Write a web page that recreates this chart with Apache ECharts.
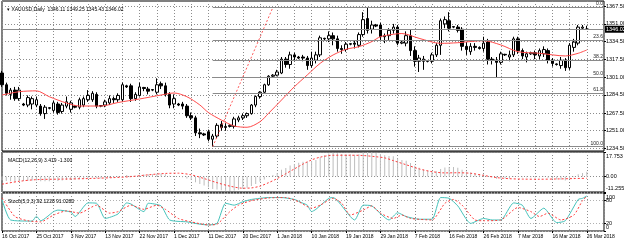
<!DOCTYPE html>
<html>
<head>
<meta charset="utf-8">
<title>XAUUSD Daily</title>
<script src="https://cdn.jsdelivr.net/npm/echarts@6.0.0/dist/echarts.min.js"></script>
<style>
  html, body { margin: 0; padding: 0; background: #fff; }
  #chart { width: 624px; height: 243px; }
</style>
</head>
<body>
<div id="chart"></div>
<script type="text/javascript">
// bars: Mon-Fri plus the short Sunday session, no bars on 24/25 Dec
var firstDay = '2017-10-16';
var barCount = 141;          // 137 bars + empty shift on the right
var noBarDays = ['2017-12-24', '2017-12-25'];
var monthNames = ['Jan','Feb','Mar','Apr','May','Jun','Jul','Aug','Sep','Oct','Nov','Dec'];

// [open, close, low, high]
var ohlc = [
  [1305,1294,1292,1307],[1294,1286,1284,1296],[1285,1289,1280,1291],[1289,1281,1279,1292],[1281,1289,1279,1292],[1276,1275,1274,1277],
  [1275,1282,1273,1284],[1276,1281,1271,1283],[1275,1280,1273,1283],[1274,1267,1265,1276],[1267,1273,1262,1275],[1272.5,1272,1271,1273],
  [1270,1277,1268,1279],[1276,1268,1266,1278],[1269,1275,1267,1277],[1274,1278,1272,1283],[1271,1277,1268,1279],[1274,1273,1272,1275],
  [1273,1280,1271,1282],[1275,1281,1273,1283],[1280,1284,1278,1289],[1280,1286,1278,1288],[1285,1274,1272,1287],[1274.5,1274,1273,1275],
  [1275,1278,1273,1280],[1277,1281,1275,1284],[1281,1280,1277,1283],[1280,1284,1278,1286],[1280,1294,1278,1296],[1293,1292,1291,1294],
  [1293,1281,1278,1295],[1281,1285,1279,1287],[1284,1292,1283,1296],[1291.5,1290.5,1288,1292],[1290,1288,1285,1292],[1289.5,1289,1288,1290],
  [1287,1294,1285,1300],[1295,1293,1290,1297],[1293,1285,1283,1296],[1285,1275,1272,1287],[1276,1281,1272,1285],[1276,1275,1274,1277],
  [1276,1274,1271,1278],[1274,1265,1263,1276],[1265,1263,1261,1268],[1263,1249,1246,1265],[1249,1248,1244,1253],[1248,1247,1246,1249],
  [1250,1243,1241,1252],[1243,1246,1236,1248],[1246,1256,1244,1258],[1257,1254,1251,1260],[1254,1255,1251,1258],[1255,1256,1254,1257],
  [1255,1262,1253,1264],[1261,1263,1259,1265],[1263,1265,1261,1267],[1265,1267,1263,1268],[1267,1275,1266,1276],
  [1275,1283,1273,1284],[1283,1287,1281,1288],[1287,1294,1286,1295],[1294,1302,1293,1303],[1302,1303,1301,1304],
  [1303,1306,1302,1308],[1305,1318,1304,1320],[1318,1313,1310,1320],[1313,1322,1309,1325],[1322,1320,1316,1324],[1320,1319,1318,1321],
  [1320,1319,1316,1322],[1319,1312,1308,1321],[1312,1319,1310,1325],[1317,1322,1314,1325],[1322,1338,1320,1340],[1337.5,1337,1335,1338],
  [1337,1340,1334,1344],[1340,1337,1331,1343],[1337,1328,1325,1340],[1328,1327,1323,1331],[1327,1332,1325,1334],[1332.5,1332,1331,1333],
  [1333,1332,1328,1335],[1331,1341,1329,1343],[1341,1355,1339,1362],[1356,1345,1342,1366.5],[1346,1350,1342,1354],[1350,1349,1348,1351],
  [1350,1339,1336,1352],[1339,1340,1333,1342],[1340,1345,1336,1347],[1345,1348,1342,1351],[1348,1333,1331,1350],[1333,1334,1332,1335],
  [1333,1340,1330,1344],[1340,1326,1321,1346],[1326,1316,1311,1330],[1316,1319,1306,1322],[1316,1318,1308,1321],[1316.5,1316,1315,1317],
  [1316,1322,1314,1324],[1322,1331,1320,1333],[1331,1354,1322,1356],[1351,1355,1347,1358],[1354,1347,1344,1362],[1348.5,1348,1347,1349],
  [1348,1345,1343,1350],[1346,1330,1326,1348],[1330,1327,1322,1334],[1325,1330,1322,1333],[1330,1329,1326,1333],[1329,1328,1327,1330],
  [1328,1333,1325,1339],[1334,1318,1313,1337],[1318,1317,1313,1320],[1317,1315,1301,1320],[1315,1323,1313,1325],[1322.5,1322,1321,1323],
  [1320,1322,1316,1326],[1322,1337,1320,1339],[1337,1326,1323,1339],[1326,1321,1318,1328],[1320,1323,1315,1325],[1323,1324,1322,1325],
  [1324,1322,1318,1326],[1321,1326,1318,1328],[1323,1327,1320,1330],[1326,1317,1314,1328],[1317,1314,1311,1319],[1313.5,1313,1312,1314],
  [1312,1317,1309,1320],[1317,1310,1307,1319],[1310,1331,1308,1333],[1329,1334,1325,1337],[1333,1348,1331,1350],[1347,1348,1346,1350],
  [1346.11,1346.02,1345.43,1349.25]
];

// moving average (red line), [bar, price]
var maPoints = [[0,1284.4],[4,1287.5],[8,1288.3],[11,1282.8],[15,1276.9],[18,1274.1],[23,1274.1],[27,1277.4],[32,1280.7],
  [37,1284.4],[40,1286.3],[43,1282.8],[46,1275.1],[48,1268.0],[51,1261.0],[54,1255.4],[57,1254.2],[60,1259.4],[62,1267.3],
  [65,1279.7],[68,1292.2],[71,1303.2],[74,1314.1],[77,1321.9],[80,1327.2],[83,1329.7],[86,1334.4],[88,1339.0],[91,1341.3],
  [93,1342.0],[97,1337.5],[102,1332.8],[106,1333.4],[112,1335.3],[116,1331.3],[120,1325.0],[125,1323.5],[131,1321.0],
  [134,1323.5],[136,1326.6]];

var priceTicks = [1234.5, 1251, 1267.5, 1284.5, 1301, 1317.5, 1334.5, 1351, 1367.5];
var bidPrice = 1346.02;

// fibonacci retracement, low 12 Dec -> high
var fibStart = 49, fibEnd = 63;
var fibLow = 1236.0, fibHigh = 1366.5;
var fibRatios = [0, 0.236, 0.382, 0.5, 0.618, 1];
var fibLabels = ['0.0', '23.6', '38.2', '50.0', '61.8', '100.0'];

// MACD(12,26,9)
var macdHist = [-2.8,-3.2,-3.4,-3.6,-3.2,-3.3,-3.2,-3.0,-2.9,-3.4,-3.5,-3.4,-3.0,-3.2,-2.9,-2.6,-2.5,-2.4,-2.0,-1.7,
  -1.3,-0.9,-1.3,-1.5,-1.4,-1.1,-0.9,-0.6,0.4,1.0,0.6,0.6,1.2,1.5,1.6,1.6,2.0,2.2,1.7,0.6,
  0.3,-0.1,-0.5,-1.5,-2.5,-4.2,-5.5,-6.5,-7.8,-9.0,-9.4,-10.0,-10.4,-10.6,-10.2,-9.6,-8.9,-8.1,-6.9,-5.4,
  -3.9,-2.2,-0.4,1.1,2.6,4.8,6.2,7.9,9.0,9.9,10.6,10.6,11.2,12.0,14.0,15.4,16.6,17.2,16.8,16.3,
  16.2,16.1,15.8,16.2,17.4,17.75,17.5,17.2,16.3,15.4,14.9,14.6,13.1,12.0,11.4,9.8,7.8,6.4,5.0,4.1,
  3.6,3.8,5.4,6.6,6.9,6.8,6.4,4.8,3.6,2.8,2.2,1.7,1.6,0.4,-0.5,-1.6,-1.5,-1.4,-1.4,-0.4,
  -0.3,-0.6,-0.6,-0.6,-0.8,-0.6,-0.4,-1.0,-1.7,-2.2,-2.4,-2.9,-1.6,-0.5,1.6,2.6,3.419];
var macdSignal = [[0,-5.6],[4,-3.5],[8,-2.3],[14,-1.9],[20,-1.5],[26,-0.8],[30,-0.1],[34,1.2],[38,2.2],[41,2.4],
  [44,1.2],[47,-1.5],[50,-4.5],[53,-7],[56,-8.5],[58,-8.3],[60,-7],[62,-4.5],[64,-1.5],[66,2],[68,5.5],[70,9],
  [72,12],[74,14],[77,15.4],[81,15.4],[84,15.2],[87,14.3],[89,13.5],[91,11.5],[94,8.5],[97,5.5],[100,3.5],
  [103,2.6],[106,2.7],[109,2.3],[112,0.8],[115,-0.8],[118,-1.6],[121,-1.9],[125,-2],[129,-1.8],[133,-1.5],[136,-1.3]];
var macdTicks = [-11.255, 0, 17.753];

// Stochastic(5,3,3)
var stochMain = [[0,83],[2,29],[7,26],[8,39],[9,27],[12,51],[13,55],[16,50],[17,38],[20,74],[22,73],[24,33],[27,45],
  [29,74],[30,71],[33,51],[34,73],[37,66],[39,29],[43,24],[46,18],[48,16],[50,20],[52,73],[54,68],[56,77],[58,83],
  [62,88],[65,88],[68,83],[70,73],[71,68],[72,51],[73,57],[76,86],[77,88],[82,29],[84,68],[86,66],[90,29],[92,48],
  [94,38],[97,31],[100,31],[102,88],[104,86],[106,66],[109,20],[112,33],[114,29],[116,29],[119,74],[121,68],[123,33],
  [126,60],[129,22],[131,27],[134,83],[135,86],[136,92.1228]];
var stochSignal = [[0,87],[3,38],[6,27],[9,24],[12,42],[15,53],[18,47],[22,68],[25,47],[27,51],[30,68],[33,57],
  [36,68],[38,57],[41,33],[44,24],[48,16],[50,18],[53,51],[55,68],[58,80],[62,87],[66,88],[69,77],[72,60],[74,68],
  [77,86],[79,73],[81,42],[84,55],[86,66],[88,47],[91,33],[93,42],[95,33],[100,29],[103,73],[105,83],[107,68],
  [110,29],[112,27],[116,29],[120,62],[123,51],[125,38],[127,47],[130,29],[133,42],[135,80],[136,91.028]];
var stochBounds = [0, 100];
var stochLevels = [20, 80];

var dates = [];
var d = new Date(firstDay + 'T00:00:00Z');
while (dates.length < barCount) {
  var key = d.toISOString().slice(0, 10);
  if (d.getUTCDay() !== 6 && noBarDays.indexOf(key) < 0) dates.push(key);
  d.setUTCDate(d.getUTCDate() + 1);
}
function dateLabel(s) {
  var p = s.split('-');
  return parseInt(p[2], 10) + ' ' + monthNames[parseInt(p[1], 10) - 1] + ' ' + p[0];
}

var FONT = '"Liberation Sans", Arial, sans-serif';
var gridDots = { color: '#8c8c8c', width: 1, type: [1, 2] };
var panes = [
  { top: 1, height: 150 },
  { top: 152, height: 40 },
  { top: 193, height: 38 }
];

var myChart = echarts.init(document.getElementById('chart'), null, { renderer: 'canvas' });

option = {
  animation: false,
  backgroundColor: '#fff',
  textStyle: { fontFamily: FONT },
  title: [
    { text: '\u25BE XAUUSD,Daily  1346.11 1349.25 1345.43 1346.02', left: 2, top: 2, textStyle: { fontSize: 5, fontWeight: 'normal', color: '#000' } },
    { text: 'MACD(12,26,9) 3.419 -1.300', left: 3, top: 153, textStyle: { fontSize: 5, fontWeight: 'normal', color: '#000' } },
    { text: 'Stoch(5,3,3) 92.1228 91.0280', left: 3, top: 194, textStyle: { fontSize: 5, fontWeight: 'normal', color: '#000' } }
  ],
  grid: panes.map(function (p) {
    return { left: 2, right: 20, top: p.top, height: p.height, show: true, borderColor: '#000', borderWidth: 1,
             backgroundColor: 'transparent', containLabel: false, outerBoundsMode: 'none' };
  }),
  xAxis: [0, 1, 2].map(function (g) {
    return {
      type: 'category', gridIndex: g, data: dates, boundaryGap: false,
      axisLine: { show: false },
      axisTick: { show: g === 2, length: 2, lineStyle: { color: '#000' },
                  interval: function (i) { return i % 8 === 0 && i <= 136; } },
      axisLabel: { show: g === 2, fontSize: 5, color: '#000', align: 'left', margin: 3, fontFamily: FONT,
                   interval: function (i) { return i % 8 === 0 && i <= 136; },
                   formatter: function (v) { return dateLabel(v); } },
      splitLine: { show: true, lineStyle: gridDots, interval: function (i) { return i % 4 === 0; } }
    };
  }),
  yAxis: [
    {
      type: 'value', gridIndex: 0, position: 'right', min: 1231.97, max: 1372.46,
      axisLine: { show: false },
      axisTick: { show: true, length: 2, customValues: priceTicks, lineStyle: { color: '#000' } },
      axisLabel: { customValues: priceTicks, fontSize: 5.5, color: '#000', margin: 2, fontFamily: FONT,
                   showMinLabel: true, showMaxLabel: true,
                   formatter: function (v) { return v.toFixed(2); } },
      splitLine: { show: true, lineStyle: gridDots }
    },
    {
      type: 'value', gridIndex: 1, position: 'right', min: -11.255, max: 17.753,
      axisLine: { show: false },
      axisTick: { show: true, length: 2, customValues: macdTicks, lineStyle: { color: '#000' } },
      axisLabel: { customValues: macdTicks, fontSize: 5.5, color: '#000', margin: 2, fontFamily: FONT,
                   showMinLabel: true, showMaxLabel: true,
                   formatter: function (v) {
                     if (v > 1) return '{t|' + v.toFixed(3) + '}';
                     if (v < -1) return '{b|' + v.toFixed(3) + '}';
                     return '0.00';
                   },
                   rich: { t: { fontSize: 5.5, padding: [8, 0, 0, 0] }, b: { fontSize: 5.5, padding: [0, 0, 7, 0] } } },
      splitLine: { show: true, lineStyle: gridDots }
    },
    {
      // stochastic pane: 0/100 labels and the 20/80 level lines
      type: 'value', gridIndex: 2, position: 'right', min: 0, max: 100,
      axisLine: { show: false },
      axisTick: { show: true, length: 2, customValues: stochBounds.concat(stochLevels), lineStyle: { color: '#000' } },
      axisLabel: { customValues: stochBounds, fontSize: 5.5, color: '#000', margin: 2, fontFamily: FONT,
                   showMinLabel: true, showMaxLabel: true,
                   formatter: function (v) { return v === 100 ? '{t|100}' : '{b|0}'; },
                   rich: { t: { fontSize: 5.5, padding: [8, 0, 0, 0] }, b: { fontSize: 5.5, padding: [0, 0, 8, 0] } } },
      splitLine: { show: true, lineStyle: { color: '#b0b0b0', width: 1, type: [1, 2] } }
    },
    {
      type: 'value', gridIndex: 2, position: 'right', min: 0, max: 100,
      axisLine: { show: false },
      axisTick: { show: false, customValues: stochLevels },
      axisLabel: { customValues: stochLevels, fontSize: 5.5, color: '#000', margin: 2, fontFamily: FONT,
                   showMinLabel: true, showMaxLabel: true },
      splitLine: { show: false }
    }
  ],
  series: [
    {
      name: 'XAUUSD', type: 'candlestick', xAxisIndex: 0, yAxisIndex: 0,
      data: ohlc, barWidth: 3, clip: false,
      itemStyle: { color: '#fff', color0: '#000', borderColor: '#000', borderColor0: '#000', borderWidth: 1 },
      markLine: {
        silent: true, symbol: ['none', 'none'], animation: false,
        lineStyle: { color: '#8a8a8a', width: 1, type: 'solid' },
        label: { position: 'end', distance: 1, formatter: bidPrice.toFixed(2), color: '#fff',
                 backgroundColor: '#000', padding: [1, 1, 0, 1], fontSize: 5.5, fontFamily: FONT },
        data: [{ yAxis: bidPrice }]
      },
      z: 3
    },
    {
      name: 'MA', type: 'line', xAxisIndex: 0, yAxisIndex: 0,
      data: maPoints, smooth: 0.3, symbol: 'none',
      lineStyle: { color: '#ff4a4a', width: 1 },
      markLine: {
        silent: true, symbol: ['none', 'none'], animation: false,
        lineStyle: { color: '#8a8a8a', width: 1, type: 'solid' },
        label: { position: 'insideEndTop', formatter: '{b}', fontSize: 5, color: '#222', distance: 1, fontFamily: FONT },
        data: fibRatios.map(function (r, k) {
          var v = fibHigh - r * (fibHigh - fibLow);
          return [{ name: fibLabels[k], coord: [fibStart, v] }, { name: fibLabels[k], coord: [barCount - 1, v] }];
        })
      },
      z: 4
    },
    {
      name: 'Fibo', type: 'line', xAxisIndex: 0, yAxisIndex: 0,
      data: [[fibStart, fibLow], [fibEnd, fibHigh]], symbol: 'none',
      lineStyle: { color: '#ff5a5a', width: 1, type: [2, 2] }, z: 4
    },
    {
      name: 'MACD', type: 'bar', xAxisIndex: 1, yAxisIndex: 1,
      data: macdHist, barWidth: 1, itemStyle: { color: '#bdbdbd' }
    },
    {
      name: 'Signal', type: 'line', xAxisIndex: 1, yAxisIndex: 1,
      data: macdSignal, smooth: 0.3, symbol: 'none',
      lineStyle: { color: '#ff3c3c', width: 1, type: [2, 2] }
    },
    {
      name: 'Stoch', type: 'line', xAxisIndex: 2, yAxisIndex: 2,
      data: stochMain, smooth: 0.2, symbol: 'none',
      lineStyle: { color: '#45c3bb', width: 1 }
    },
    {
      name: 'StochSignal', type: 'line', xAxisIndex: 2, yAxisIndex: 2,
      data: stochSignal, smooth: 0.2, symbol: 'none',
      lineStyle: { color: '#ff3c3c', width: 1, type: [2, 2] }
    }
  ]
};
myChart.setOption(option);
</script>
</body>
</html>
